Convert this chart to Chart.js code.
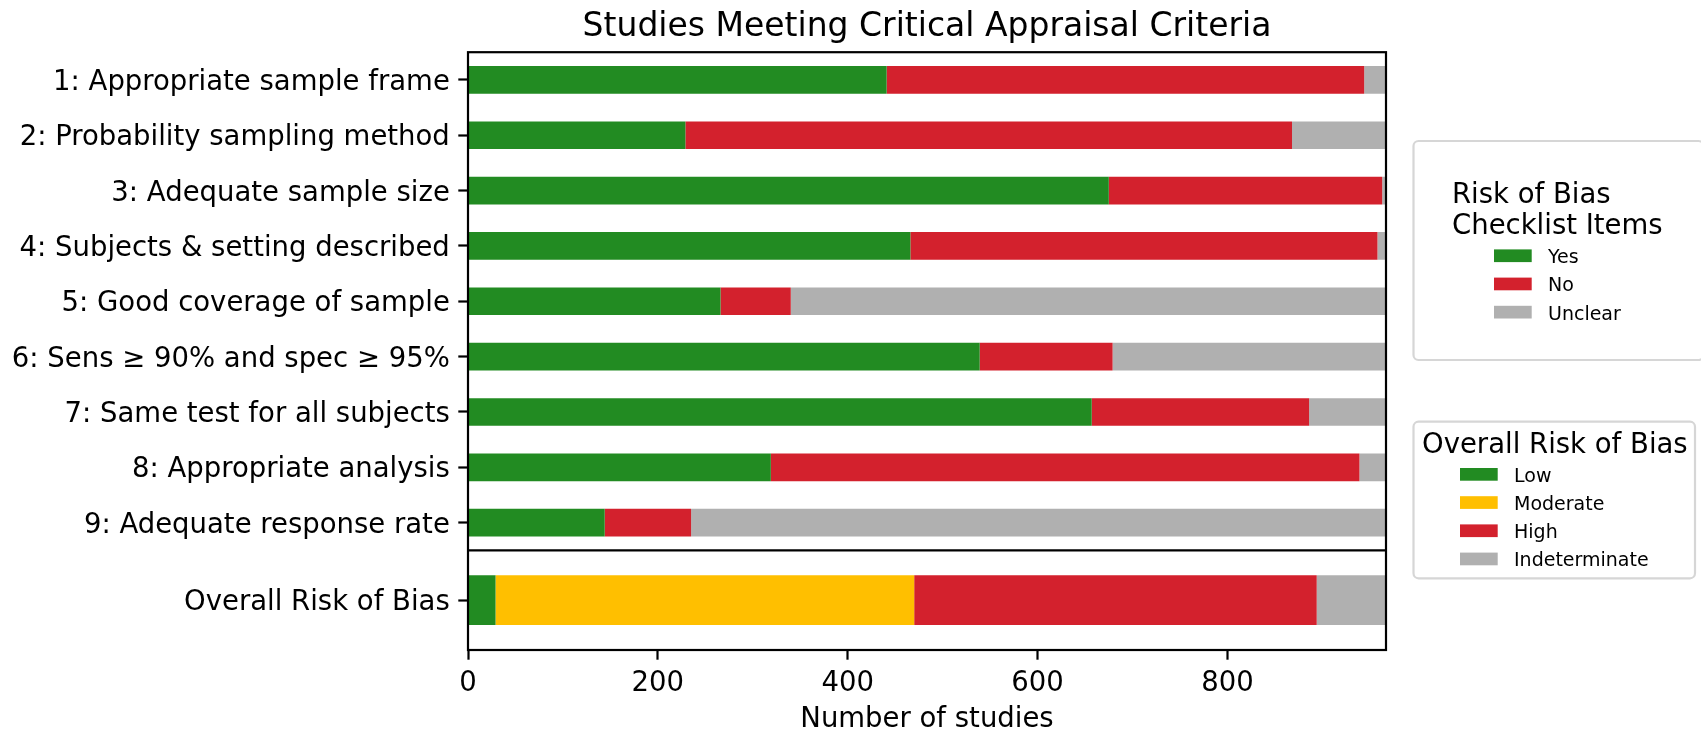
<!DOCTYPE html>
<html>
<head>
<meta charset="utf-8">
<title>Studies Meeting Critical Appraisal Criteria</title>
<script src="https://cdn.jsdelivr.net/npm/chart.js@4.4.1/dist/chart.umd.min.js"></script>
<style>
  html, body { margin: 0; padding: 0; background: #ffffff; }
  #wrap { width: 1701px; height: 732px; }
</style>
</head>
<body>
<div id="wrap"><canvas id="appraisalChart" width="1701" height="732"></canvas></div>
<script>
// Checklist items (top panel)
var itemLabels = [
    '1: Appropriate sample frame',
    '2: Probability sampling method',
    '3: Adequate sample size',
    '4: Subjects & setting described',
    '5: Good coverage of sample',
    '6: Sens \u2265 90% and spec \u2265 95%',
    '7: Same test for all subjects',
    '8: Appropriate analysis',
    '9: Adequate response rate'
];
var yesCounts     = [441, 229, 675, 466, 266, 539, 657, 319, 144];
var noCounts      = [503, 639, 288, 492,  74, 140, 229, 620,  91];
var unclearCounts = [ 23,  99,   4,   9, 627, 288,  81,  28, 732];

// Overall risk of bias (bottom panel)
var overallLabels       = ['Overall Risk of Bias'];
var lowCounts           = [29];
var moderateCounts      = [441];
var highCounts          = [424];
var indeterminateCounts = [73];

var xTickValues = [0, 200, 400, 600, 800];

var totalStudies = yesCounts[0] + noCounts[0] + unclearCounts[0];

var GREEN = '#228b22';
var RED = '#d3212d';
var GREY = '#b0b0b0';
var AMBER = '#ffbf00';

Chart.defaults.font.family = '"DejaVu Sans", sans-serif';
Chart.defaults.color = '#000000';

// black frame round the axes plus the line between the two panels
var framePlugin = {
    id: 'axesFrame',
    afterDatasetsDraw: function(chart) {
        var a = chart.chartArea;
        var ctx = chart.ctx;
        ctx.save();
        ctx.strokeStyle = '#000000';
        ctx.lineWidth = 2.2;
        ctx.strokeRect(a.left, a.top, a.right - a.left, a.bottom - a.top);
        var sep = chart.scales.y2.top;
        ctx.beginPath();
        ctx.moveTo(a.left, sep);
        ctx.lineTo(a.right, sep);
        ctx.stroke();
        ctx.restore();
    }
};

// two legend boxes, one per panel
var legendBoxes = [
    { axis: 'y', title: ['Risk of Bias', 'Checklist Items'], box: [1413.5, 141, 290, 219],
      titleX: 1452, titleY: 195.5, swatchX: 1494, textX: 1548, firstRow: 255.7 },
    { axis: 'y2', title: ['Overall Risk of Bias'], box: [1413.5, 421.7, 281.5, 156.6],
      titleX: 1422, titleY: 445.5, swatchX: 1460, textX: 1514, firstRow: 474.3 }
];

var legendPlugin = {
    id: 'twoLegends',
    afterDraw: function(chart) {
        var ctx = chart.ctx;
        ctx.save();
        legendBoxes.forEach(function(lg) {
            var b = lg.box;
            ctx.strokeStyle = '#d6d6d6';
            ctx.lineWidth = 2.2;
            ctx.beginPath();
            ctx.roundRect(b[0], b[1], b[2], b[3], 5);
            ctx.stroke();

            ctx.fillStyle = '#000000';
            ctx.textAlign = 'left';
            ctx.textBaseline = 'middle';
            ctx.font = '27.5px "DejaVu Sans"';
            lg.title.forEach(function(line, i) {
                ctx.fillText(line, lg.titleX, lg.titleY + i * 31);
            });

            ctx.font = '19px "DejaVu Sans"';
            var items = chart.data.datasets.filter(function(ds) { return ds.yAxisID === lg.axis; });
            items.forEach(function(ds, i) {
                var cy = lg.firstRow + i * 28.2;
                ctx.fillStyle = ds.backgroundColor;
                ctx.fillRect(lg.swatchX, cy - 6.3, 37.7, 12.7);
                ctx.fillStyle = '#000000';
                ctx.fillText(ds.label, lg.textX, cy + 2.5);
            });
        });
        ctx.restore();
    }
};

var yGrid = {
    display: true,
    drawOnChartArea: false,
    drawTicks: true,
    tickLength: 9.7,
    tickWidth: 2.2,
    tickColor: '#000000',
    offset: false
};

var yTicks = {
    autoSkip: false,
    font: { size: 27.5 },
    padding: 8.5,
    labelOffset: 3,
    color: '#000000'
};

var ctx = document.getElementById('appraisalChart').getContext('2d');
var appraisalChart = new Chart(ctx, {
    type: 'bar',
    data: {
        datasets: [
            { label: 'Yes', data: yesCounts, backgroundColor: GREEN, yAxisID: 'y' },
            { label: 'No', data: noCounts, backgroundColor: RED, yAxisID: 'y' },
            { label: 'Unclear', data: unclearCounts, backgroundColor: GREY, yAxisID: 'y' },
            { label: 'Low', data: lowCounts, backgroundColor: GREEN, yAxisID: 'y2' },
            { label: 'Moderate', data: moderateCounts, backgroundColor: AMBER, yAxisID: 'y2' },
            { label: 'High', data: highCounts, backgroundColor: RED, yAxisID: 'y2' },
            { label: 'Indeterminate', data: indeterminateCounts, backgroundColor: GREY, yAxisID: 'y2' }
        ]
    },
    options: {
        indexAxis: 'y',
        responsive: false,
        animation: false,
        events: [],
        grouped: false,
        barPercentage: 0.5,
        categoryPercentage: 1.0,
        borderWidth: 0,
        layout: {
            padding: { left: 0, right: 315, top: 0, bottom: 0 }
        },
        scales: {
            x: {
                type: 'linear',
                position: 'bottom',
                stacked: true,
                min: 0,
                max: totalStudies,
                afterBuildTicks: function(scale) {
                    scale.ticks = xTickValues.map(function(v) { return { value: v }; });
                },
                afterFit: function(scale) { scale.height = 82; },
                ticks: {
                    font: { size: 27.5, lineHeight: 1.2 },
                    padding: 8,
                    color: '#000000'
                },
                grid: {
                    drawOnChartArea: false,
                    drawTicks: true,
                    tickLength: 9.7,
                    tickWidth: 2.2,
                    tickColor: '#000000'
                },
                border: { display: false },
                title: {
                    display: true,
                    text: 'Number of studies',
                    color: '#000000',
                    font: { size: 27.5, lineHeight: 0.85 },
                    padding: { top: 0, bottom: 0 }
                }
            },
            y: {
                type: 'category',
                labels: itemLabels,
                position: 'left',
                stacked: true,
                offset: true,
                stack: 'panels',
                stackWeight: 5,
                weight: 1,
                afterFit: function(scale) { scale.width = 468; },
                ticks: yTicks,
                grid: yGrid,
                border: { display: false }
            },
            y2: {
                type: 'category',
                labels: overallLabels,
                position: 'left',
                stacked: true,
                offset: true,
                stack: 'panels',
                stackWeight: 1,
                weight: 0,
                afterFit: function(scale) { scale.width = 468; },
                ticks: yTicks,
                grid: yGrid,
                border: { display: false }
            }
        },
        plugins: {
            legend: { display: false },
            tooltip: { enabled: false },
            title: {
                display: true,
                fullSize: false,
                text: 'Studies Meeting Critical Appraisal Criteria',
                color: '#000000',
                font: { size: 33, weight: 'normal', lineHeight: 1.2 },
                padding: { top: 8, bottom: 4.6 }
            }
        }
    },
    plugins: [framePlugin, legendPlugin]
});
</script>
</body>
</html>
